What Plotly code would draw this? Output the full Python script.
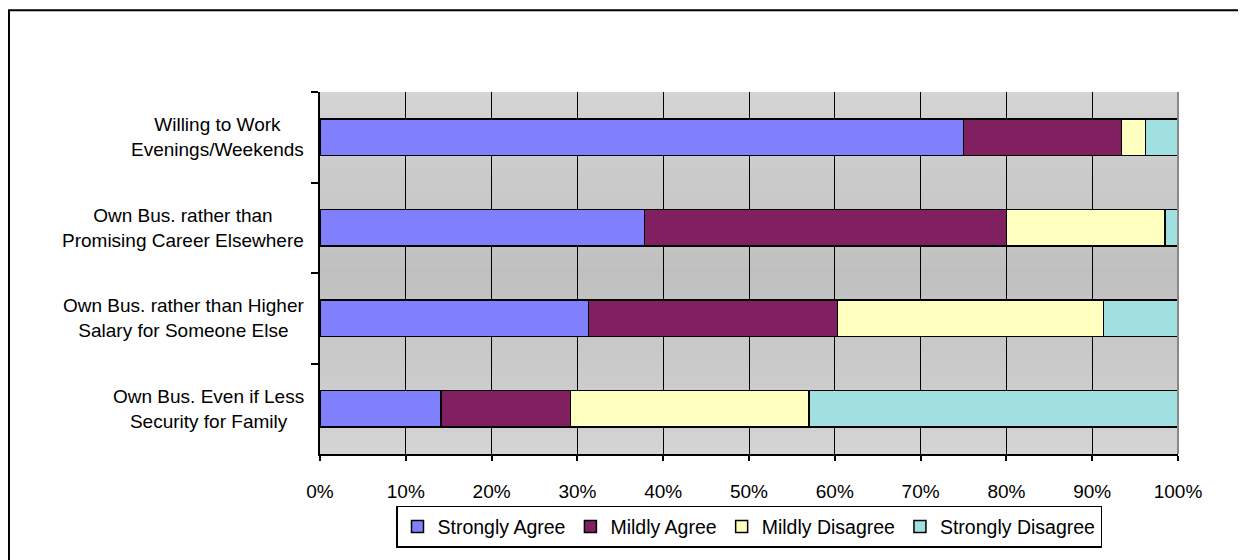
import plotly.graph_objects as go

categories = [
    "Willing to Work<br>Evenings/Weekends",
    "Own Bus. rather than<br>Promising Career Elsewhere",
    "Own Bus. rather than Higher<br>Salary for Someone Else",
    "Own Bus. Even if Less<br>Security for Family",
]
series_names = ["Strongly Agree", "Mildly Agree", "Mildly Disagree", "Strongly Disagree"]
strongly_agree = [75.0, 37.8, 31.3, 14.1]
mildly_agree = [18.4, 42.2, 29.0, 15.1]
mildly_disagree = [2.8, 18.5, 31.0, 27.8]
strongly_disagree = [3.8, 1.5, 8.7, 43.0]
series_values = [strongly_agree, mildly_agree, mildly_disagree, strongly_disagree]
colors = ["#8080FF", "#802060", "#FFFFC0", "#A0E0E0"]
x_ticks = [0, 10, 20, 30, 40, 50, 60, 70, 80, 90, 100]

FONT = "Liberation Sans, Arial, sans-serif"

fig = go.Figure()
for name, vals, col in zip(series_names, series_values, colors):
    fig.add_trace(go.Bar(
        y=categories, x=vals, name=name, orientation="h",
        marker=dict(color=col, line=dict(color="black", width=1.5)),
    ))

# gradient plot background
shapes = []
N = 48
for i in range(N):
    mid = (i + 0.5) / N
    v = int(round(192 + 20 * abs(2 * mid - 1)))
    c = f"rgb({v},{v},{v})"
    shapes.append(dict(type="rect", xref="x domain", yref="y domain",
                       x0=0, x1=1, y0=i / N, y1=(i + 1) / N,
                       fillcolor=c, line=dict(width=0), layer="below"))
# plot area right border
shapes.append(dict(type="line", xref="x domain", yref="y domain",
                   x0=1, x1=1, y0=0, y1=1, line=dict(color="#888888", width=2),
                   layer="above"))
# outer chart frame (inside the figure canvas)
shapes.append(dict(type="rect", xref="paper", yref="paper",
                   x0=-0.3625, x1=1.0735, y0=-0.32, y1=1.226,
                   line=dict(color="black", width=2), fillcolor="rgba(0,0,0,0)",
                   layer="above"))

annotations = []
for cat in categories:
    annotations.append(dict(
        xref="x domain", yref="y", x=0, y=cat, text=cat,
        showarrow=False, xanchor="right", yanchor="middle", align="center",
        xshift=-14, font=dict(family=FONT, size=19, color="black"),
    ))

fig.update_layout(
    width=1238, height=552,
    margin=dict(l=312, r=68, t=84, b=104),
    paper_bgcolor="white", plot_bgcolor="#c8c8c8",
    barmode="stack", barnorm="percent", bargap=0.6,
    font=dict(family=FONT, size=19.5, color="black"),
    showlegend=True,
    legend=dict(orientation="h", x=0.5, xanchor="center", y=-0.143, yanchor="top",
                bordercolor="black", borderwidth=1.5, bgcolor="white",
                font=dict(family=FONT, size=19.5, color="black"),
                itemwidth=30, traceorder="normal"),
    shapes=shapes,
    annotations=annotations,
)
fig.update_xaxes(
    range=[0, 100], tickvals=x_ticks, ticktext=[f"{t}%" for t in x_ticks],
    showgrid=True, gridcolor="black", gridwidth=1,
    showline=True, linecolor="black", linewidth=2,
    ticks="outside", ticklen=5, tickcolor="black", tickwidth=1.5,
    tickfont=dict(family=FONT, size=19, color="black"),
    ticklabelstandoff=14, zeroline=False, fixedrange=True,
)
fig.update_yaxes(
    autorange="reversed", showticklabels=False,
    showgrid=False, showline=True, linecolor="black", linewidth=2,
    ticks="outside", ticklen=7, tickcolor="black", tickwidth=1.5,
    tickson="boundaries", zeroline=False, fixedrange=True,
)

fig.write_html("out.html")
